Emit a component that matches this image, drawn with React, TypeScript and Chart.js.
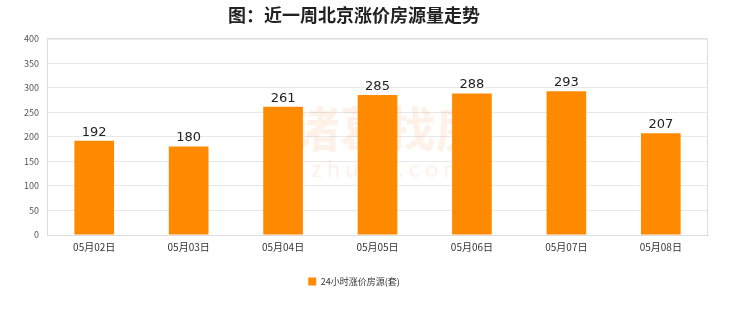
import React, { useEffect, useRef } from "react";
import { Chart, registerables } from "chart.js";

Chart.register(...registerables);

const titleText = "图：近一周北京涨价房源量走势";
const categories = ["05月02日", "05月03日", "05月04日", "05月05日", "05月06日", "05月07日", "05月08日"];
const seriesName = "24小时涨价房源(套)";
const values = [192, 180, 261, 285, 288, 293, 207];
const yMax = 400;
const yStep = 50;

const FONT = "'Noto Sans CJK SC', 'Noto Sans', sans-serif";

const labelPlugin = {
  id: "barLabels",
  afterDatasetsDraw(chart: any) {
    const ctx = chart.ctx;
    const meta = chart.getDatasetMeta(0);
    ctx.save();
    ctx.fillStyle = "#222";
    ctx.font = `13px 'DejaVu Sans', sans-serif`;
    ctx.textAlign = "center";
    ctx.textBaseline = "bottom";
    meta.data.forEach((bar: any, i: number) => {
      ctx.fillText(String(values[i]), bar.x, bar.y - 2);
    });
    ctx.restore();
  },
};

const watermarkPlugin = {
  id: "watermark",
  beforeDatasetsDraw(chart: any) {
    const { ctx, chartArea } = chart;
    const cx = (chartArea.left + chartArea.right) / 2;
    const cy = (chartArea.top + chartArea.bottom) / 2;
    ctx.save();
    ctx.globalAlpha = 0.12;
    ctx.fillStyle = "#f08a40";
    ctx.font = `bold 48px ${FONT}`;
    ctx.textAlign = "center";
    ctx.textBaseline = "middle";
    ctx.fillText("诸葛找房", cx + 10, cy - 8);
    ctx.font = `22px ${FONT}`;
    ctx.fillText("z h u g e . c o m", cx + 10, cy + 32);
    ctx.restore();
  },
};

export default function App() {
  const ref = useRef<HTMLCanvasElement>(null);
  useEffect(() => {
    document.body.style.margin = "0";
    const chart = new Chart(ref.current!, {
      type: "bar",
      data: {
        labels: categories,
        datasets: [
          {
            label: seriesName,
            data: values,
            backgroundColor: "#ff8a00",
            borderWidth: 0,
            barPercentage: 0.42,
            categoryPercentage: 1,
          },
        ],
      },
      options: {
        animation: false,
        responsive: false,
        maintainAspectRatio: false,
        layout: { padding: { left: 0, right: 32, top: 0, bottom: 16 } },
        plugins: {
          title: {
            display: true,
            text: titleText,
            color: "#222",
            font: { family: FONT, size: 18, weight: "bold" },
            padding: { top: 4, bottom: 13 },
          },
          legend: {
            position: "bottom",
            labels: {
              boxWidth: 8,
              boxHeight: 8,
              color: "#333",
              font: { family: FONT, size: 9 },
              padding: 10,
            },
          },
          tooltip: { enabled: false },
        },
        scales: {
          x: {
            grid: { display: false, drawTicks: false },
            border: { color: "#ddd" },
            ticks: { color: "#333", font: { family: FONT, size: 10 }, padding: 6 },
            afterFit(scale: any) {
              scale.height = 32;
            },
          },
          y: {
            min: 0,
            max: yMax,
            ticks: { stepSize: yStep, color: "#555", font: { family: FONT, size: 9 }, padding: 8 },
            grid: { color: "#e8e8e8", drawTicks: false },
            border: { color: "#ddd" },
            afterFit(scale: any) {
              scale.width = 47;
            },
          },
        },
      },
      plugins: [watermarkPlugin, labelPlugin, {
        id: "frame",
        afterDraw(chart: any) {
          const { ctx, chartArea } = chart;
          ctx.save();
          ctx.strokeStyle = "#ddd";
          ctx.lineWidth = 1;
          ctx.strokeRect(chartArea.left + 0.5, chartArea.top + 0.5, chartArea.right - chartArea.left - 1, chartArea.bottom - chartArea.top);
          ctx.restore();
        },
      }],
    });
    return () => chart.destroy();
  }, []);
  return (
    <div style={{ position: "absolute", left: 0, top: 0, width: 740, height: 312, background: "#fff" }}>
      <canvas ref={ref} width={740} height={312} style={{ width: 740, height: 312 }} />
    </div>
  );
}
